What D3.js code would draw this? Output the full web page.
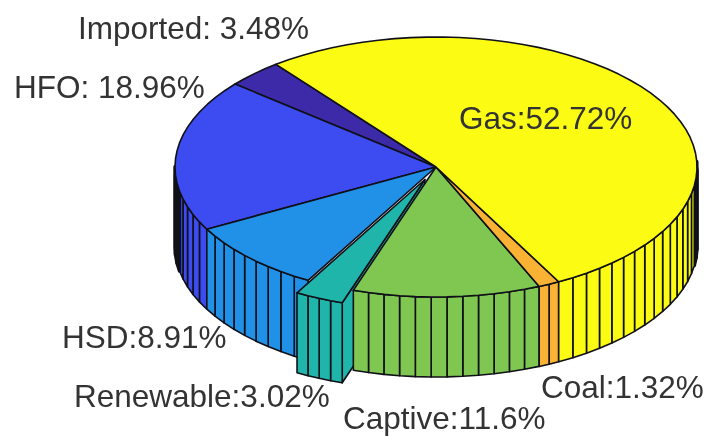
<!DOCTYPE html>
<html lang="en">
<head>
  <meta charset="UTF-8" />
  <title>Generation mix</title>
  <style>
    html, body { margin: 0; padding: 0; background: #fff; }
    svg { display: block; filter: blur(0.35px); }
    .facet { stroke: #101018; stroke-width: 1.6px; stroke-linejoin: round; }
    .label { font-family: "Liberation Sans", Arial, sans-serif; font-size: 31.5px; fill: #333; }
  </style>
</head>
<body>
  <svg width="708" height="436"></svg>

  <script src="https://d3js.org/d3.v7.min.js"></script>
  <script>
    const sources = ["Gas", "Coal", "Captive", "Renewable", "HSD", "HFO", "Imported"];
    const shares = [52.72, 1.32, 11.6, 3.02, 8.91, 18.96, 3.48];
    const labels = ["Gas:52.72%", "Coal:1.32%", "Captive:11.6%", "Renewable:3.02%", "HSD:8.91%", "HFO: 18.96%", "Imported: 3.48%"];
    const exploded = ["Renewable"];

    // layout
    const colors = ["#fbfb14", "#f9b233", "#7fc751", "#1fb5ab", "#2191e8", "#3c4cf0", "#3d2aa8"];
    const labelAt = [[459, 129], [541, 398], [343, 429], [74, 407], [62, 348], [14, 98], [78, 39]];
    const depth = 80;
    const explodeBy = 0.105;

    const svg = d3.select("svg");
    const x = d3.scaleLinear().domain([-1, 1]).range([175, 697]);
    const y = d3.scaleLinear().domain([-1, 1]).range([37, 297]);

    // d3.pie angles run clockwise from 12 o'clock, same as the picture
    const pie = d3.pie().sort(null).startAngle(-0.66).endAngle(-0.66 + 2 * Math.PI);
    const arcs = pie(shares);

    const line = d3.line().x(d => d[0]).y(d => d[1]);
    const toScreen = (ux, uy, drop = 0) => [x(ux), y(uy) + drop];

    function rim(a, off) {
      return [off[0] + Math.sin(a), off[1] - Math.cos(a)];
    }

    const slices = arcs.map((d, i) => {
      const mid = (d.startAngle + d.endAngle) / 2;
      const off = exploded.includes(sources[i])
        ? [explodeBy * Math.sin(mid), -explodeBy * Math.cos(mid)]
        : [0, 0];
      const steps = Math.ceil(shares[i]);
      const angles = d3.range(steps + 1).map(k => d.startAngle + (d.endAngle - d.startAngle) * k / steps);
      return { name: sources[i], color: colors[i], off, angles, isExploded: exploded.includes(sources[i]) };
    });

    // back slices first, the front right one last
    const order = [6, 5, 4, 3, 2, 1, 0];

    const g = svg.append("g");
    order.forEach(i => {
      const s = slices[i];
      const group = g.append("g").attr("class", "slice");

      if (s.isExploded) {
        // the cut face that shows beside the pulled out slice
        const a = rim(s.angles[0], s.off);
        group.append("path")
          .attr("class", "facet")
          .attr("fill", s.color)
          .attr("d", line([
            toScreen(a[0], a[1]),
            toScreen(s.off[0], s.off[1]),
            toScreen(s.off[0], s.off[1], depth),
            toScreen(a[0], a[1], depth)
          ]) + "Z");
      }

      const strips = d3.pairs(s.angles).filter(p => {
        const m = (p[0] + p[1]) / 2;
        return -Math.cos(m) > -0.03;
      });
      group.selectAll("path.strip")
        .data(strips)
        .join("path")
        .attr("class", "facet strip")
        .attr("fill", s.color)
        // strips seen almost edge on close up to black at the sides
        .style("stroke-width", p => Math.abs(Math.sin((p[0] + p[1]) / 2)) > 0.985 ? "3.4px" : null)
        .attr("d", p => {
          const a = rim(p[0], s.off), b = rim(p[1], s.off);
          return line([
            toScreen(a[0], a[1]),
            toScreen(b[0], b[1]),
            toScreen(b[0], b[1], depth),
            toScreen(a[0], a[1], depth)
          ]) + "Z";
        });

      const top = [toScreen(s.off[0], s.off[1])].concat(s.angles.map(a => {
        const r = rim(a, s.off);
        return toScreen(r[0], r[1]);
      }));
      group.append("path")
        .attr("class", "facet")
        .attr("fill", s.color)
        .attr("d", line(top) + "Z");
    });

    svg.selectAll("text.label")
      .data(labels)
      .join("text")
      .attr("class", "label")
      .attr("x", (d, i) => labelAt[i][0])
      .attr("y", (d, i) => labelAt[i][1])
      .text(d => d);
  </script>
</body>
</html>
